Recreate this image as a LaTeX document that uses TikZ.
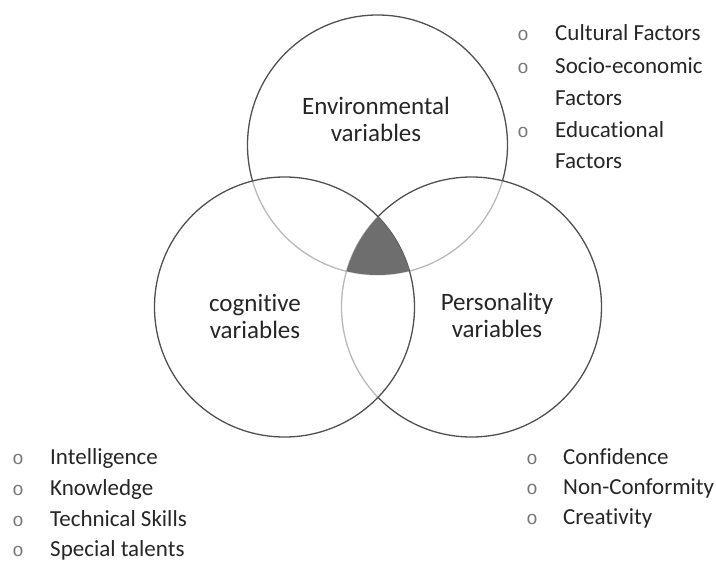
\documentclass[tikz,border=0pt]{standalone}
\usepackage{fontspec}
\setmainfont{Carlito}[Ligatures=NoCommon]
\newfontfamily\bulletfont{Liberation Mono}
\definecolor{ringgray}{HTML}{505050}
\definecolor{coregray}{HTML}{6E6E6E}
\definecolor{txtgray}{HTML}{262626}
\definecolor{dotgray}{HTML}{787878}
\begin{document}
\begin{tikzpicture}[x=1pt,y=-1pt,
  ring/.style={circle, draw=ringgray, line width=1.3pt, minimum size=260pt, inner sep=0pt},
  veil/.style={fill=white, fill opacity=0.6},
  vennlabel/.style={font=\fontsize{25}{27}\selectfont, text=txtgray, align=center, inner sep=0pt},
  item/.style={font=\fontsize{23}{24}\selectfont, text=txtgray, anchor=base west, inner sep=0pt},
  dot/.style={font=\bulletfont\fontsize{19}{19}\selectfont, text=dotgray, anchor=base, inner sep=0pt}
]
\useasboundingbox (0,0) rectangle (716,563);

% the three overlapping sets (lower rings show through the upper ones)
\node[ring] (env) at (377.5,145) {};
\node[ring, veil] (pers) at (471.5,307) {};
\node[ring, veil] (cog) at (284.5,307) {};

% common region of all three sets
\begin{scope}
  \clip (env.center) circle[radius=130];
  \clip (pers.center) circle[radius=130];
  \fill[coregray] (cog.center) circle[radius=130];
\end{scope}

% set names
\node[vennlabel] (envname) at (376,119) {Environmental\\variables};
\node[vennlabel] (cogname) at (255,316) {cognitive\\variables};
\node[vennlabel] (persname) at (497,315.5) {Personality\\variables};

% environmental factors
\node[dot] (e1) at (523,40) {o};
\node[item] (te1) at (555,40) {Cultural Factors};
\node[dot] (e2) at (523,73) {o};
\node[item] (te2) at (555,73) {Socio-economic};
\node[item] (te2b) at (555,105) {Factors};
\node[dot] (e3) at (523,137) {o};
\node[item] (te3) at (555,137) {Educational};
\node[item] (te3b) at (555,168) {Factors};

% cognitive factors
\node[dot] (c1) at (18,464) {o};
\node[item] (tc1) at (50,464) {Intelligence};
\node[dot] (c2) at (18,495) {o};
\node[item] (tc2) at (50,495) {Knowledge};
\node[dot] (c3) at (18,526) {o};
\node[item] (tc3) at (50,526) {Technical Skills};
\node[dot] (c4) at (18,556) {o};
\node[item] (tc4) at (50,556) {Special talents};

% personality factors
\node[dot] (p1) at (532,464) {o};
\node[item] (tp1) at (563,464) {Confidence};
\node[dot] (p2) at (532,494) {o};
\node[item] (tp2) at (563,494) {Non-Conformity};
\node[dot] (p3) at (532,524) {o};
\node[item] (tp3) at (563,524) {Creativity};
\end{tikzpicture}
\end{document}
